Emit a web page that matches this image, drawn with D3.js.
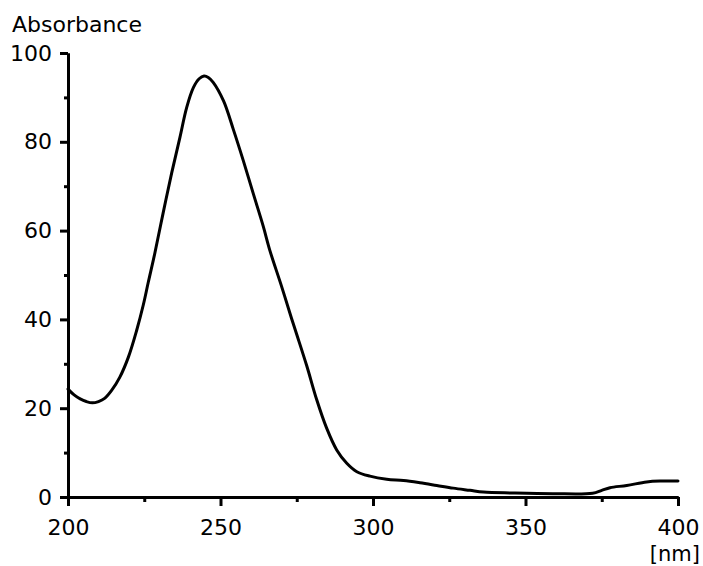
<!DOCTYPE html>
<html>
<head>
<meta charset="utf-8">
<script src="https://cdn.jsdelivr.net/npm/d3@7"></script>
<style>
  html, body { margin: 0; padding: 0; background: #fff; }
  svg { display: block; }
  text { font-family: "DejaVu Sans", sans-serif; fill: #000; }
</style>
</head>
<body>
<svg id="chart" width="703" height="566"></svg>
<script>
// Data
const wavelength = [200, 202, 204, 206, 208, 210, 212, 214.3, 217, 219.8, 222.5, 224.7, 226.3, 228.5, 231.2, 234, 236.7, 238.9, 241.1, 243, 244.6, 246, 247.6, 251, 254.2, 257.5, 260.8, 264, 266.2, 270, 273.3, 275, 278.3, 281.5, 284.8, 288.1, 291.4, 294.7, 299, 304.5, 310, 315.4, 320.9, 326.3, 331.8, 336.2, 346, 359, 372, 375, 377.7, 383.2, 389.7, 394.1, 400];
const absorbance = [24.3, 23.0, 22.1, 21.5, 21.2, 21.5, 22.2, 24, 27, 31.5, 37.5, 43.3, 48.3, 55, 64, 73, 81, 87.7, 92.2, 94.2, 94.8, 94.5, 93.4, 89.2, 82.8, 75.7, 68.2, 61, 55.5, 47.5, 40.2, 36.6, 29.5, 22, 15.5, 10.6, 7.6, 5.7, 4.7, 4.0, 3.7, 3.2, 2.6, 2.0, 1.5, 1.1, 0.9, 0.75, 0.85, 1.5, 2.1, 2.6, 3.4, 3.6, 3.6];
const xMajorTicks = [200, 250, 300, 350, 400];
const xMinorTicks = [225, 275, 325, 375];
const yMajorTicks = [0, 20, 40, 60, 80, 100];
const yMinorTicks = [10, 30, 50, 70, 90];
const yTitle = "Absorbance";
const xUnit = "[nm]";

const svg = d3.select("#chart");
const x = d3.scaleLinear().domain([200, 400]).range([68, 678]);
const y = d3.scaleLinear().domain([0, 100]).range([497, 53]);

function styleAxis(g) {
  g.selectAll("path.domain").attr("stroke", "#000").attr("stroke-width", 3);
  g.selectAll(".tick line").attr("stroke", "#000").attr("stroke-width", 3);
  g.selectAll(".tick text").style("font-family", "DejaVu Sans, sans-serif").style("font-size", "22px").attr("fill", "#000");
}

// Y axis
svg.append("g").attr("transform", "translate(68,0)")
  .call(d3.axisLeft(y).tickValues(yMinorTicks).tickSize(4).tickSizeOuter(0).tickFormat(""))
  .call(styleAxis);
svg.append("g").attr("transform", "translate(68,0)")
  .call(d3.axisLeft(y).tickValues(yMajorTicks).tickSize(8).tickSizeOuter(0).tickPadding(8))
  .call(styleAxis);

// X axis
svg.append("g").attr("transform", "translate(0,497)")
  .call(d3.axisBottom(x).tickValues(xMinorTicks).tickSize(5).tickSizeOuter(0).tickFormat(""))
  .call(styleAxis);
svg.append("g").attr("transform", "translate(0,497)")
  .call(d3.axisBottom(x).tickValues(xMajorTicks).tickSize(9).tickSizeOuter(0).tickPadding(13))
  .call(styleAxis);

// Curve
const pts = wavelength.map((w, i) => [w, absorbance[i]]);
svg.append("path")
  .datum(pts)
  .attr("fill", "none")
  .attr("stroke", "#000")
  .attr("stroke-width", 3)
  .attr("stroke-linejoin", "round")
  .attr("stroke-linecap", "round")
  .attr("d", d3.line().x(d => x(d[0])).y(d => y(d[1])).curve(d3.curveCatmullRom.alpha(0.5)));

// Titles
svg.append("text").attr("x", 12).attr("y", 32).style("font-size", "22px").text(yTitle);
svg.append("text").attr("x", 700).attr("y", 561).attr("text-anchor", "end").style("font-size", "21px").text(xUnit);
</script>
</body>
</html>
